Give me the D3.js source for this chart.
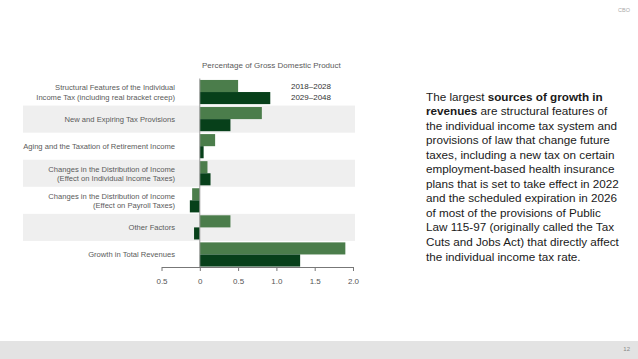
<!DOCTYPE html>
<html>
<head>
<meta charset="utf-8">
<script src="https://cdn.jsdelivr.net/npm/d3@7"></script>
<style>
  body { margin: 0; background: #fff; }
  svg { display: block; font-family: "Liberation Sans", Arial, sans-serif; }
  .lbl { font-size: 7.6px; fill: #5a5a5a; }
  .axis text { font-size: 8px; fill: #555; }
  .axis path, .axis line { stroke: #777; }
</style>
</head>
<body>
<div id="chart"></div>
<script>
var svgWidth = 638;
var svgHeight = 359;

// data
var categories = [
  ["Structural Features of the Individual", "Income Tax (including real bracket creep)"],
  ["New and Expiring Tax Provisions"],
  ["Aging and the Taxation of Retirement Income"],
  ["Changes in the Distribution of Income", "(Effect on Individual Income Taxes)"],
  ["Changes in the Distribution of Income", "(Effect on Payroll Taxes)"],
  ["Other Factors"],
  ["Growth in Total Revenues"]
];
var seriesNames = ["2018\u20132028", "2029\u20132048"];
var values2018 = [0.50, 0.81, 0.20, 0.10, -0.10, 0.40, 1.90];
var values2029 = [0.92, 0.40, 0.05, 0.14, -0.13, -0.075, 1.31];
var tickValues = [-0.5, 0, 0.5, 1.0, 1.5, 2.0];
var tickLabels = ["0.5", "0", "0.5", "1.0", "1.5", "2.0"];
var colors = ["#4b7d4b", "#07401a"];

var svg = d3.select("#chart")
  .append("svg")
  .attr("width", svgWidth)
  .attr("height", svgHeight);

// footer strip
svg.append("rect")
  .attr("x", 0).attr("y", 341)
  .attr("width", svgWidth).attr("height", 18)
  .attr("fill", "#e3e3e3");
svg.append("text")
  .attr("x", 630).attr("y", 351)
  .attr("text-anchor", "end")
  .attr("font-size", 6).attr("fill", "#888")
  .text("12");
svg.append("text")
  .attr("x", 630).attr("y", 12)
  .attr("text-anchor", "end")
  .attr("font-size", 5.5).attr("fill", "#aaa")
  .text("CBO");

var x = d3.scaleLinear()
  .domain([-0.5, 2.0])
  .range([161.5, 353]);

var y = d3.scaleBand()
  .domain(d3.range(categories.length))
  .range([78.5, 268])
  .paddingInner(0);

var rowData = categories.map(function(c, i) {
  return { label: c, v: [values2018[i], values2029[i]] };
});

// shaded rows
svg.selectAll(".band")
  .data(rowData.filter(function(d, i) { return i % 2 == 1; }))
  .enter()
  .append("rect")
  .attr("class", "band")
  .attr("x", 23)
  .attr("y", function(d) { return y(rowData.indexOf(d)); })
  .attr("width", 355 - 23)
  .attr("height", y.bandwidth())
  .attr("fill", "#efefef");

// bars
var inner = d3.scaleBand()
  .domain([0, 1])
  .range([0, y.bandwidth()])
  .paddingOuter(0.12)
  .paddingInner(0);

var rows = svg.selectAll(".row")
  .data(rowData)
  .enter()
  .append("g")
  .attr("transform", function(d, i) { return "translate(0," + y(i) + ")"; });

rows.selectAll("rect")
  .data(function(d) { return d.v; })
  .enter()
  .append("rect")
  .attr("x", function(v) { return x(Math.min(0, v)); })
  .attr("y", function(v, j) { return inner(j); })
  .attr("width", function(v) { return Math.abs(x(v) - x(0)); })
  .attr("height", inner.bandwidth())
  .attr("fill", function(v, j) { return colors[j]; });

// category labels
rows.append("text")
  .attr("class", "lbl")
  .attr("text-anchor", "end")
  .attr("x", 175)
  .attr("y", function(d) { return y.bandwidth() / 2 - (d.label.length - 1) * 4.7 + 3; })
  .selectAll("tspan")
  .data(function(d) { return d.label; })
  .enter()
  .append("tspan")
  .attr("x", 175)
  .attr("dy", function(t, k) { return k == 0 ? 0 : 9.8; })
  .text(function(t) { return t; });

// zero line
svg.append("line")
  .attr("x1", x(0)).attr("x2", x(0))
  .attr("y1", 78.5).attr("y2", 267)
  .attr("stroke", "#999")
  .attr("stroke-width", 1);

// bottom axis
var bottomAxis = d3.axisBottom(x)
  .tickValues(tickValues)
  .tickSize(4)
  .tickSizeOuter(0)
  .tickFormat(function(d, i) { return tickLabels[i]; });

svg.append("g")
  .attr("class", "axis")
  .attr("transform", "translate(0,267)")
  .call(bottomAxis)
  .selectAll("text")
  .attr("dy", "1.25em");

// axis title
svg.append("text")
  .attr("class", "lbl")
  .attr("font-size", 8)
  .style("font-size", "8px")
  .attr("x", 202).attr("y", 68)
  .text("Percentage of Gross Domestic Product");

// legend
svg.selectAll(".leg")
  .data(seriesNames)
  .enter()
  .append("text")
  .attr("class", "lbl")
  .style("font-size", "8px")
  .style("fill", "#333")
  .attr("x", 331)
  .attr("y", function(d, i) { return 89 + i * 10.5; })
  .attr("text-anchor", "end")
  .text(function(d) { return d; });

// side text
var side = [
  [["The largest ", false], ["sources of growth in", true]],
  [["revenues", true], [" are structural features of", false]],
  [["the individual income tax system and", false]],
  [["provisions of law that change future", false]],
  [["taxes, including a new tax on certain", false]],
  [["employment-based health insurance", false]],
  [["plans that is set to take effect in 2022", false]],
  [["and the scheduled expiration in 2026", false]],
  [["of most of the provisions of Public", false]],
  [["Law 115-97 (originally called the Tax", false]],
  [["Cuts and Jobs Act) that directly affect", false]],
  [["the individual income tax rate.", false]]
];
var sideText = svg.append("g");
side.forEach(function(line, i) {
  var t = sideText.append("text")
    .attr("x", 426)
    .attr("y", 100.5 + i * 14.55)
    .attr("font-size", 11.7)
    .attr("fill", "#1a1a1a");
  line.forEach(function(part) {
    t.append("tspan")
      .attr("font-weight", part[1] ? "bold" : "normal")
      .text(part[0]);
  });
});
</script>
</body>
</html>
